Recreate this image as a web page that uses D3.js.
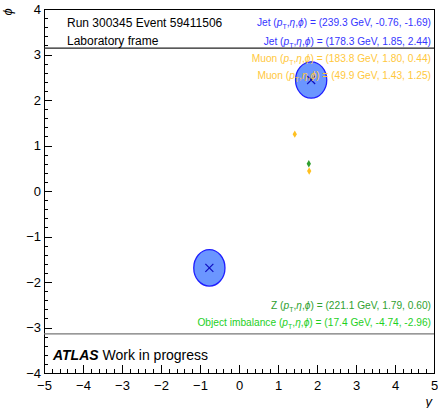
<!DOCTYPE html>
<html lang="en">
<head>
<meta charset="UTF-8">
<title>Event display</title>
<script src="https://d3js.org/d3.v7.min.js"></script>
<style>
    body { margin: 0; background: #fff; }
    svg { font-family: "Liberation Sans", Arial, sans-serif; }
    .axis text { font-size: 13px; fill: #000; }
    .axis path, .axis line { stroke: #000; shape-rendering: crispEdges; }
</style>
</head>
<body>
<svg width="438" height="408"></svg>
<script>
    // event info
    const runNumber = 300345;
    const eventNumber = 59411506;

    // jets (pt, eta, phi) and cone radius
    const jetPt = [239.3, 178.3];
    const jetEta = [-0.76, 1.85];
    const jetPhi = [-1.69, 2.44];
    const jetR = 0.4;

    // muons
    const muonPt = [183.8, 49.9];
    const muonEta = [1.80, 1.43];
    const muonPhi = [0.44, 1.25];

    // Z candidate and object imbalance
    const zPt = [221.1], zEta = [1.79], zPhi = [0.60];
    const imbPt = [17.4], imbEta = [-4.74], imbPhi = [-2.96];

    const xTicks = [-5, -4, -3, -2, -1, 0, 1, 2, 3, 4, 5];
    const yTicks = [-4, -3, -2, -1, 0, 1, 2, 3, 4];

    const margin = {top: 9, right: 4, bottom: 35, left: 44};
    const width = 438 - margin.left - margin.right;
    const height = 408 - margin.top - margin.bottom;

    const svg = d3.select("svg");
    const g = svg.append("g")
        .attr("transform", `translate(${margin.left},${margin.top})`);

    const x = d3.scaleLinear().domain([-5, 5]).range([0, width]);
    const y = d3.scaleLinear().domain([-4, 4]).range([height, 0]);

    const fmtMinus = d => d3.format("d")(d).replace("-", "\u2212");

    // minor ticks
    g.append("g").attr("class", "axis")
        .attr("transform", `translate(0,${height})`)
        .call(d3.axisBottom(x).ticks(50).tickSize(-4).tickFormat(""))
        .call(a => a.select(".domain").remove());
    g.append("g").attr("class", "axis")
        .call(d3.axisLeft(y).ticks(40).tickSize(-4).tickFormat(""))
        .call(a => a.select(".domain").remove());

    // major ticks
    g.append("g").attr("class", "axis")
        .attr("transform", `translate(0,${height})`)
        .call(d3.axisBottom(x).tickValues(xTicks).tickSize(-8).tickPadding(3).tickFormat(fmtMinus))
        .call(a => a.selectAll(".tick text").attr("dy", "1.05em"))
        .call(a => a.select(".domain").remove());
    g.append("g").attr("class", "axis")
        .call(d3.axisLeft(y).tickValues(yTicks).tickSize(-8).tickPadding(3).tickFormat(fmtMinus))
        .call(a => a.select(".domain").remove());

    // frame
    g.append("rect")
        .attr("width", width).attr("height", height)
        .attr("fill", "none").attr("stroke", "#000").attr("stroke-width", 1)
        .attr("shape-rendering", "crispEdges");

    // phi = +-pi lines
    g.append("line")
        .attr("x1", 0).attr("x2", width)
        .attr("y1", y(Math.PI)).attr("y2", y(Math.PI))
        .attr("stroke", "#222").attr("stroke-width", 1.3);
    g.append("line")
        .attr("x1", 0).attr("x2", width)
        .attr("y1", y(-Math.PI)).attr("y2", y(-Math.PI))
        .attr("stroke", "#777").attr("stroke-width", 1.3);

    // jets
    const jets = jetPt.map((pt, i) => ({pt, eta: jetEta[i], phi: jetPhi[i]}));
    g.selectAll(".jet")
        .data(jets)
        .enter().append("ellipse")
        .attr("cx", d => x(d.eta))
        .attr("cy", d => y(d.phi))
        .attr("rx", x(jetR) - x(0))
        .attr("ry", y(0) - y(jetR))
        .attr("fill", "#6b96ff")
        .attr("stroke", "#1e1eff")
        .attr("stroke-width", 1.3);
    g.selectAll(".jetx")
        .data(jets)
        .enter().append("path")
        .attr("transform", d => `translate(${x(d.eta)},${y(d.phi)})`)
        .attr("d", "M-4,-4L4,4M-4,4L4,-4")
        .attr("stroke", "#1010c0")
        .attr("stroke-width", 1.2);

    // muons and Z
    const diamond = d3.symbol().type(d3.symbolDiamond).size(16);
    g.selectAll(".muon")
        .data(muonPt.map((pt, i) => ({eta: muonEta[i], phi: muonPhi[i]})))
        .enter().append("path")
        .attr("transform", d => `translate(${x(d.eta)},${y(d.phi)})`)
        .attr("d", diamond)
        .attr("fill", "#ffc020");
    g.selectAll(".zboson")
        .data(zPt.map((pt, i) => ({eta: zEta[i], phi: zPhi[i]})))
        .enter().append("path")
        .attr("transform", d => `translate(${x(d.eta)},${y(d.phi)})`)
        .attr("d", diamond)
        .attr("fill", "#2f9f2f");

    // labels
    function kinLabel(sel, name, pt, eta, phi) {
        const f = v => v.toFixed(2);
        sel.append("tspan").text(name + " (");
        sel.append("tspan").attr("font-style", "italic").text("p");
        sel.append("tspan").attr("font-size", "7px").attr("dy", 3).text("T");
        sel.append("tspan").attr("dy", -3).text(",");
        sel.append("tspan").attr("font-style", "italic").text("\u03b7");
        sel.append("tspan").text(",");
        sel.append("tspan").attr("font-style", "italic").text("\u03d5");
        sel.append("tspan").text(`) = (${pt.toFixed(1)} GeV, ${f(eta)}, ${f(phi)})`);
    }

    const labels = [];
    jets.forEach(d => labels.push({name: "Jet", pt: d.pt, eta: d.eta, phi: d.phi, color: "#3535ff"}));
    muonPt.forEach((pt, i) => labels.push({name: "Muon", pt, eta: muonEta[i], phi: muonPhi[i], color: "#ffc83c"}));
    const labelY = [25.5, 44.5, 61.5, 78.5];
    labels.forEach((d, i) => {
        svg.append("text")
            .attr("x", 431).attr("y", labelY[i])
            .attr("text-anchor", "end")
            .attr("font-size", "10.2px")
            .attr("fill", d.color)
            .call(s => kinLabel(s, d.name, d.pt, d.eta, d.phi));
    });
    svg.append("text")
        .attr("x", 431).attr("y", 308.5)
        .attr("text-anchor", "end").attr("font-size", "10.2px")
        .attr("fill", "#2f9f2f")
        .call(s => kinLabel(s, "Z", zPt[0], zEta[0], zPhi[0]));
    svg.append("text")
        .attr("x", 431).attr("y", 325.5)
        .attr("text-anchor", "end").attr("font-size", "10.2px")
        .attr("fill", "#1ed01e")
        .call(s => kinLabel(s, "Object imbalance", imbPt[0], imbEta[0], imbPhi[0]));

    svg.append("text")
        .attr("x", 67).attr("y", 26.5)
        .attr("font-size", "12px")
        .text(`Run ${runNumber} Event ${eventNumber}`);
    svg.append("text")
        .attr("x", 67).attr("y", 44.5)
        .attr("font-size", "12px")
        .text("Laboratory frame");

    const atlas = svg.append("text")
        .attr("x", 53).attr("y", 360)
        .attr("font-size", "14px");
    atlas.append("tspan").attr("font-weight", "bold").attr("font-style", "italic").text("ATLAS");
    atlas.append("tspan").text(" Work in progress");

    // axis titles
    svg.append("text")
        .attr("transform", "translate(12,12) rotate(-90)")
        .attr("text-anchor", "middle")
        .attr("font-size", "13px")
        .attr("font-style", "italic")
        .text("\u03d5");
    svg.append("text")
        .attr("x", 432).attr("y", 406)
        .attr("text-anchor", "end")
        .attr("font-size", "13px")
        .attr("font-style", "italic")
        .text("y");
</script>
</body>
</html>
